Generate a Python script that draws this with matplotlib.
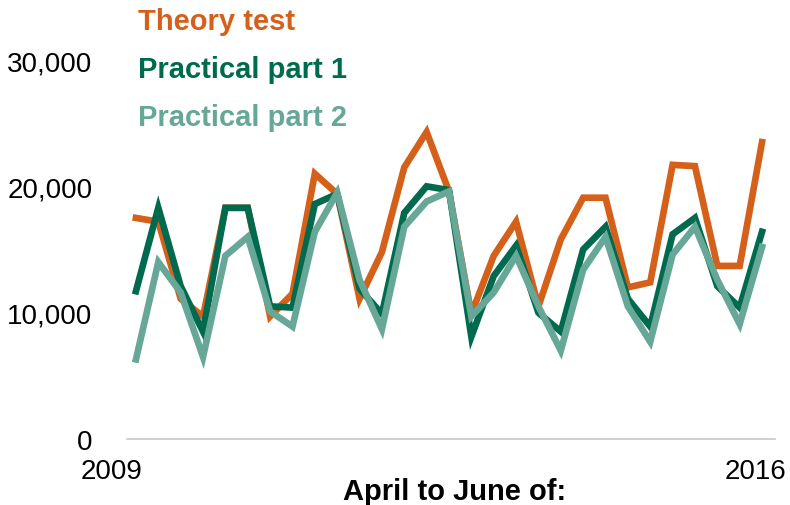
import matplotlib.pyplot as plt
import numpy as np

plt.rcParams['font.family'] = ['Liberation Sans', 'DejaVu Sans']

# quarterly figures, April-June 2009 to April-June 2016
quarters = np.arange(29)
theory = [17500, 17200, 11100, 9700, 18300, 18300, 9700, 11500, 21000, 19400,
          11100, 14800, 21500, 24300, 19600, 9900, 14500, 17200, 10500, 15800,
          19100, 19100, 12000, 12400, 21700, 21600, 13700, 13700, 23500]
practical1 = [11700, 18300, 12100, 8500, 18300, 18300, 10500, 10400, 18600, 19400,
              11900, 9900, 17900, 20000, 19700, 8100, 12900, 15300, 10000, 8500,
              15000, 16800, 11100, 8900, 16200, 17500, 12100, 10400, 16400]
practical2 = [6300, 14000, 11600, 6500, 14500, 16000, 10100, 8900, 16400, 19500,
              12600, 8700, 16800, 18800, 19600, 9700, 11600, 14500, 10500, 7000,
              13400, 16000, 10500, 7700, 14600, 16800, 12600, 9100, 15200]
yticks = [0, 10000, 20000, 30000]

c_theory = '#D4601A'
c_p1 = '#006A4E'
c_p2 = '#66A797'

fig = plt.figure(figsize=(7.9, 5.06), dpi=100)
ax = fig.add_axes([127/790, 66/506, 648/790, 420/506])

ax.plot(quarters, theory, color=c_theory, lw=4.8, solid_joinstyle='miter', zorder=2)
ax.plot(quarters, practical1, color=c_p1, lw=4.8, solid_joinstyle='miter', zorder=3)
ax.plot(quarters, practical2, color=c_p2, lw=4.8, solid_joinstyle='miter', zorder=4)

ax.set_xlim(-0.40, 28.58)
ax.set_ylim(0, 33246)

for s in ['top', 'right', 'left']:
    ax.spines[s].set_visible(False)
ax.spines['bottom'].set_color('#C8C8C8')
ax.spines['bottom'].set_linewidth(1.2)

ax.set_yticks(yticks)
ax.set_yticklabels(['{:,}'.format(v) for v in yticks], fontsize=20)
ax.tick_params(axis='y', length=0, pad=25)
ax.set_xticks([])

ax.text(-1.07, -1500, '2009', fontsize=20, ha='center', va='top', clip_on=False)
ax.text(27.73, -1500, '2016', fontsize=20, ha='center', va='top', clip_on=False)
fig.text(455/790, 1 - 492/506, 'April to June of:', fontsize=21, fontweight='bold',
         ha='center', va='center')

fig.text(138/790, 1 - 22/506, 'Theory test', color=c_theory, fontsize=21,
         fontweight='bold', va='center')
fig.text(138/790, 1 - 70/506, 'Practical part 1', color=c_p1, fontsize=21,
         fontweight='bold', va='center')
fig.text(138/790, 1 - 118/506, 'Practical part 2', color=c_p2, fontsize=21,
         fontweight='bold', va='center')

fig.savefig('out.png', dpi=100)
